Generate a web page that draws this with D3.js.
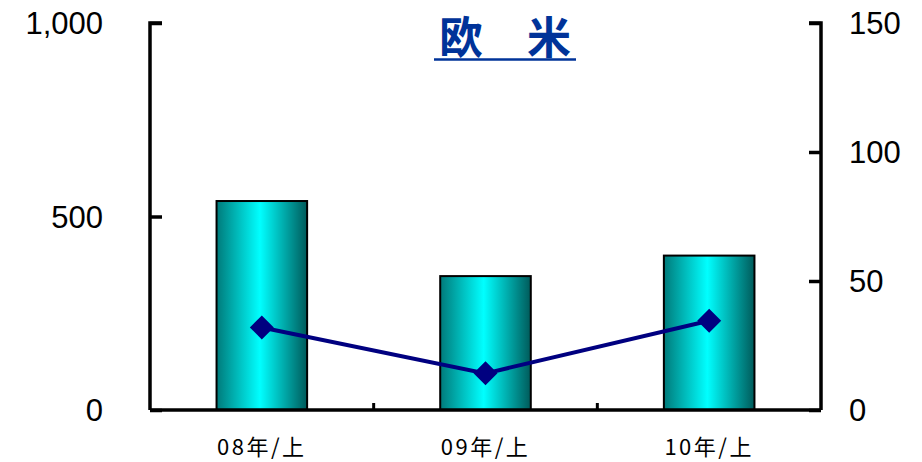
<!DOCTYPE html>
<html><head><meta charset="utf-8">
<script src="https://cdn.jsdelivr.net/npm/d3@7"></script>
<style>body{margin:0;background:#fff}svg{display:block}</style>
</head><body>
<script>
const categories = ["08年/上", "09年/上", "10年/上"];
const barValues = [540, 346, 399];
const lineValues = [32.0, 14.2, 34.6];
const leftTicks = [0, 500, 1000];
const rightTicks = [0, 50, 100, 150];
const title = "欧　米";

const W = 922, H = 462;
const m = {left: 150, right: 101, top: 23, bottom: 52};
const svg = d3.select("body").append("svg").attr("width", W).attr("height", H);

const x = d3.scaleBand().domain(categories).range([m.left, W - m.right]).paddingInner(0).paddingOuter(0);
const yL = d3.scaleLinear().domain([0, 1000]).range([H - m.bottom, m.top]);
const yR = d3.scaleLinear().domain([0, 150]).range([H - m.bottom, m.top]);

const defs = svg.append("defs");
const g = defs.append("linearGradient").attr("id", "barGrad").attr("x1", "0%").attr("x2", "100%").attr("y1", "0%").attr("y2", "0%");
g.append("stop").attr("offset", "0%").attr("stop-color", "#007a7a");
g.append("stop").attr("offset", "48%").attr("stop-color", "#00ffff");
g.append("stop").attr("offset", "100%").attr("stop-color", "#005a5a");

const bw = x.bandwidth() * 0.405;
svg.append("g").selectAll("rect").data(barValues).join("rect")
  .attr("x", (d, i) => x(categories[i]) + x.bandwidth() / 2 - bw / 2)
  .attr("y", d => yL(d))
  .attr("width", bw)
  .attr("height", d => yL(0) - yL(d))
  .attr("fill", "url(#barGrad)")
  .attr("stroke", "#000").attr("stroke-width", 2);

const font = "'Noto Sans CJK JP', sans-serif";
const numFont = "'Liberation Sans', Arial, sans-serif";

// left axis
const axL = svg.append("g").attr("transform", `translate(${m.left},0)`)
  .call(d3.axisRight(yL).tickValues(leftTicks).tickSize(12).tickFormat(""));
axL.select(".domain").attr("stroke", "#000").attr("stroke-width", 3.5).attr("d", `M12,${m.top}H0V${H - m.bottom}`);
axL.selectAll(".tick line").attr("stroke", "#000").attr("stroke-width", 3.5);
svg.append("g").selectAll("text").data(leftTicks).join("text")
  .attr("x", 103).attr("y", d => yL(d)).attr("dy", "0.36em")
  .attr("text-anchor", "end").attr("font-family", numFont).attr("font-size", 31)
  .text(d => d3.format(",")(d));

// right axis
const axR = svg.append("g").attr("transform", `translate(${W - m.right},0)`)
  .call(d3.axisLeft(yR).tickValues(rightTicks).tickSize(12).tickFormat(""));
axR.select(".domain").attr("stroke", "#000").attr("stroke-width", 3.5).attr("d", `M-12,${m.top}H0V${H - m.bottom}`);
axR.selectAll(".tick line").attr("stroke", "#000").attr("stroke-width", 3.5);
svg.append("g").selectAll("text").data(rightTicks).join("text")
  .attr("x", 849).attr("y", d => yR(d)).attr("dy", "0.36em")
  .attr("text-anchor", "start").attr("font-family", numFont).attr("font-size", 31)
  .text(d => d);

// bottom axis
const axB = svg.append("g").attr("transform", `translate(0,${H - m.bottom})`)
  .call(d3.axisBottom(x).tickSize(0).tickFormat(""));
axB.select(".domain").attr("stroke", "#000").attr("stroke-width", 3.5).attr("d", `M${m.left},0H${W - m.right}`);
const bounds = categories.slice(1).map(c => x(c));
svg.append("g").selectAll("line").data(bounds).join("line")
  .attr("x1", d => d).attr("x2", d => d)
  .attr("y1", H - m.bottom).attr("y2", H - m.bottom - 7)
  .attr("stroke", "#000").attr("stroke-width", 3);
svg.append("g").selectAll("text").data(categories).join("text")
  .attr("x", d => x(d) + x.bandwidth() / 2).attr("y", 455)
  .attr("text-anchor", "middle").attr("font-family", font).attr("font-size", 22)
  .attr("letter-spacing", 2.5)
  .text(d => d);

// line
const pts = lineValues.map((v, i) => [x(categories[i]) + x.bandwidth() / 2, yR(v)]);
svg.append("path").attr("d", d3.line()(pts)).attr("fill", "none")
  .attr("stroke", "#000080").attr("stroke-width", 4);
svg.append("g").selectAll("path").data(pts).join("path")
  .attr("transform", d => `translate(${d[0]},${d[1]})`)
  .attr("d", "M0,-12L12,0L0,12L-12,0Z")
  .attr("fill", "#000080");

// title
svg.append("text").attr("x", 505).attr("y", 54)
  .attr("text-anchor", "middle").attr("font-family", font).attr("font-weight", "bold")
  .attr("font-size", 44).attr("fill", "#003399").text(title);
svg.append("line").attr("x1", 434).attr("x2", 576).attr("y1", 59.5).attr("y2", 59.5)
  .attr("stroke", "#003399").attr("stroke-width", 2.5);
</script>
</body></html>
